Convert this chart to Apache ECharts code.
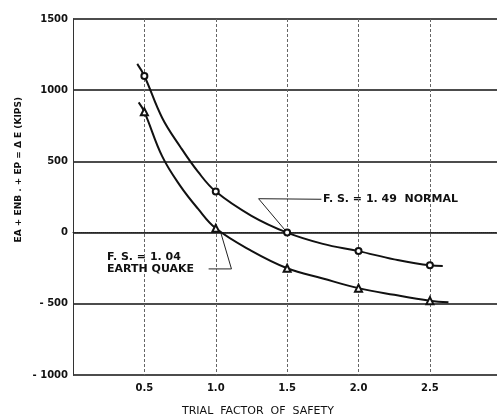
<!DOCTYPE html>
<html><head><meta charset="utf-8">
<script src="https://cdn.jsdelivr.net/npm/echarts@6/dist/echarts.min.js"></script>
<style>html,body{margin:0;padding:0;background:#fff}#c{width:500px;height:419px}</style>
</head><body><div id="c"></div>
<script>
const xValues = [0.5, 1.0, 1.5, 2.0, 2.5];
const normalY = [1100, 288, 0, -130, -230];
const quakeY = [848, 30, -250, -390, -478];
// extra points (no markers)
const normalCurve = [[0.45, 1185], [0.625, 805], [0.75, 605], [0.875, 428], [1.25, 118], [1.75, -79], [2.25, -188], [2.59, -234]];
const quakeCurve = [[0.46, 915], [0.625, 535], [0.75, 330], [0.875, 168], [1.25, -128], [1.75, -322], [2.25, -437], [2.63, -489]];
// annotation leader lines (data coordinates)
const leaderNormal = [[1.74, 234], [1.30, 238], [1.5, 0]];
const leaderQuake = [[0.95, -255], [1.11, -255], [1.035, 0]];
const xTickLabels = ['0.5', '1.0', '1.5', '2.0', '2.5'];
const yTickLabels = {'1500':'1500','1000':'1000','500':'500','0':'0','-500':'- 500','-1000':'- 1000'};

function buildSeries(curve, ys, sym) {
  const pts = curve.map(p => ({value: p, symbol: 'none'}));
  xValues.forEach((x, i) => pts.push({value: [x, ys[i]], symbol: sym}));
  pts.sort((a, b) => a.value[0] - b.value[0]);
  return pts;
}

const font = 'DejaVu Sans';
const chart = echarts.init(document.getElementById('c'));
chart.setOption({
  animation: false,
  backgroundColor: '#fff',
  grid: {left: 73, right: 0, top: 19, bottom: 44},
  xAxis: {
    type: 'value', min: 0, max: 2.97, interval: 0.5,
    axisLine: {show: true, lineStyle: {color: '#222', width: 1, type: 'dotted'}},
    axisTick: {show: false},
    axisLabel: {
      fontFamily: font, fontWeight: 'bold', fontSize: 10, color: '#111', margin: 8,
      formatter: v => { const s = v.toFixed(1); return xTickLabels.includes(s) ? s : ''; }
    },
    splitLine: {show: true, lineStyle: {color: ['#666', '#666', '#666', '#666', '#666', '#666', 'rgba(0,0,0,0)'], width: 1, type: [3, 2]}}
  },
  yAxis: {
    type: 'value', min: -1000, max: 1500, interval: 500,
    axisLine: {show: true, lineStyle: {color: '#333', width: 1}},
    axisTick: {show: false},
    axisLabel: {
      fontFamily: font, fontWeight: 'bold', fontSize: 10, color: '#111', margin: 5,
      formatter: v => yTickLabels[String(v)] || ''
    },
    splitLine: {show: true, lineStyle: {color: '#111', width: 1.5}}
  },
  graphic: [
    {type: 'text', left: 14, top: 97,
     style: {text: 'EA + ENB . + EP = Δ E (KIPS)', font: 'bold 9px DejaVu Sans', fill: '#111'},
     rotation: Math.PI / 2},
    {type: 'text', x: 182, y: 406,
     style: {text: 'TRIAL  FACTOR  OF  SAFETY', font: '11px DejaVu Sans', fill: '#111'}},
    {type: 'text', x: 323, y: 194,
     style: {text: 'F. S. = 1. 49  NORMAL', font: 'bold 11px DejaVu Sans', fill: '#111'}},
    {type: 'text', x: 107, y: 252,
     style: {text: 'F. S. = 1. 04', font: 'bold 11px DejaVu Sans', fill: '#111'}},
    {type: 'text', x: 107, y: 264,
     style: {text: 'EARTH QUAKE', font: 'bold 11px DejaVu Sans', fill: '#111'}}
  ],
  series: [
    {type: 'line', name: 'Normal', smooth: 0.4, data: buildSeries(normalCurve, normalY, 'emptyCircle'),
     symbolSize: 6, lineStyle: {color: '#111', width: 2}, itemStyle: {color: '#111', borderWidth: 1.2}},
    {type: 'line', name: 'Earth quake', smooth: 0.4, data: buildSeries(quakeCurve, quakeY, 'emptyTriangle'),
     symbolSize: 7, lineStyle: {color: '#111', width: 2}, itemStyle: {color: '#111', borderWidth: 1.2}},
    {type: 'line', data: leaderNormal, symbol: 'none', lineStyle: {color: '#222', width: 1}, z: 1},
    {type: 'line', data: leaderQuake, symbol: 'none', lineStyle: {color: '#222', width: 1}, z: 1}
  ]
});
</script></body></html>
